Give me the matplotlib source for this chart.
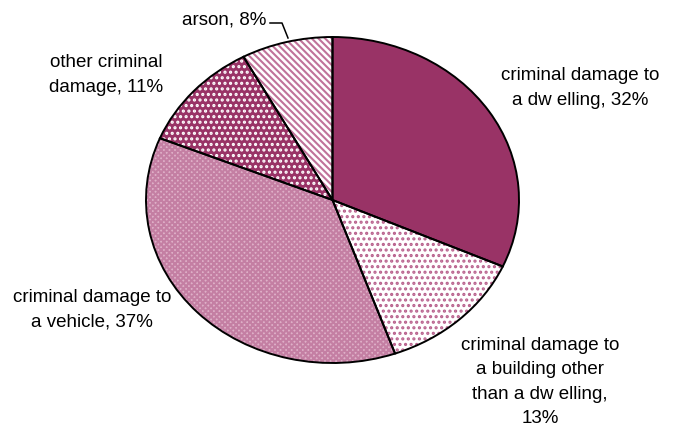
import matplotlib.pyplot as plt

plt.rcParams['font.family'] = ['Liberation Sans', 'DejaVu Sans']
plt.rcParams['hatch.linewidth'] = 1.5

labels = ['criminal damage to\na dw elling', 'criminal damage to\na building other\nthan a dw elling,',
          'criminal damage to\na vehicle', 'other criminal\ndamage', 'arson']
values = [32, 13, 37, 11, 8]

plum = '#993366'
faces = [plum, 'white', '#dfb0c8', plum, 'white']
hatches = [None, '...', 'xxxxxx', '...', '\\\\\\\\\\']
hatch_cols = [plum, '#b8608c', '#c47fa3', 'white', '#c0739a']

W, H = 678, 426
cx, cy, rx, ry = 332.5, 200, 186.5, 163

fig = plt.figure(figsize=(W / 100, H / 100), dpi=100)
ax = fig.add_axes([0, 0, 1, 1])


def px(x, y):
    return (x - cx) / rx, (cy - y) / ry


# filled wedges with their patterns
wedges, _ = ax.pie(values, startangle=90, counterclock=False, radius=1,
                   colors=faces, wedgeprops=dict(linewidth=0))
for w, h, hc in zip(wedges, hatches, hatch_cols):
    if h:
        w.set_hatch(h)
        w.set_edgecolor(hc)
        w.set_linewidth(0)

# black outlines on top
outl, _ = ax.pie(values, startangle=90, counterclock=False, radius=1,
                 colors=['none'] * 5, wedgeprops=dict(linewidth=1.4, edgecolor='black', fill=False))

ax.set_aspect('auto')
ax.set_xlim(px(0, 0)[0], px(W, 0)[0])
ax.set_ylim(px(0, H)[1], px(0, 0)[1])
ax.axis('off')

pos = [(580, 88), (540, 382), (92, 310), (106, 75), (224, 20)]
for lab, v, (x, y) in zip(labels, values, pos):
    if lab.endswith(','):
        txt = f'{lab}\n{v}%'
    else:
        txt = f'{lab}, {v}%'
    ax.text(*px(x, y), txt, ha='center', va='center', fontsize=13.5, linespacing=1.55)

# leader line for the arson label
lx, ly = zip(px(270, 23), px(282, 23), px(288, 38))
ax.plot(lx, ly, color='black', linewidth=1.1)

fig.savefig('out.png', dpi=100)
